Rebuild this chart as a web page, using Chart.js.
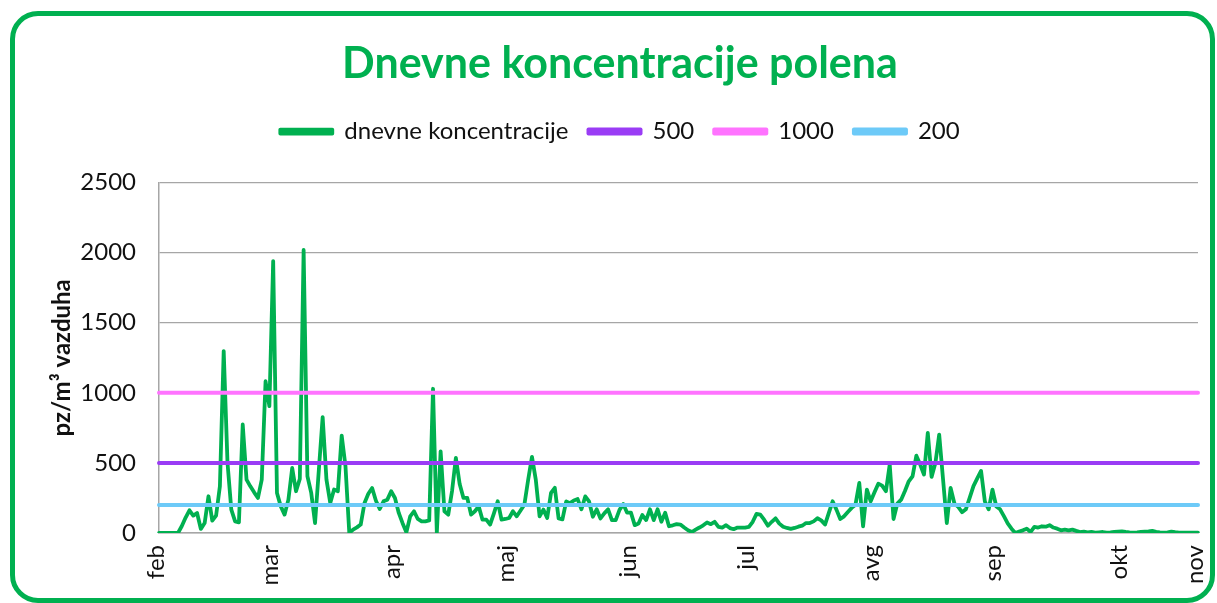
<!DOCTYPE html>
<html>
<head>
<meta charset="utf-8">
<script src="https://cdn.jsdelivr.net/npm/chart.js@4.4.1/dist/chart.umd.min.js"></script>
<style>
body { margin: 0; background: #fff; }
#polenChart { position: absolute; left: 0; top: 0; }
#frame {
    position: absolute; left: 10px; top: 11px; width: 1205px; height: 592px;
    box-sizing: border-box; border: 5px solid #00b050; border-radius: 28px;
    pointer-events: none;
}
</style>
</head>
<body>
<canvas id="polenChart" width="1217" height="603"></canvas>
<div id="frame"></div>
<script>
'use strict'
// month name shown at the day index where the month label sits
var monthNames = ['feb', 'mar', 'apr', 'maj', 'jun', 'jul', 'avg', 'sep', 'okt', 'nov'];
var monthStart = [0, 30, 62, 92, 124, 155, 188, 220, 253, 273];

// daily pollen counts, pz/m3
var dnevne = [
    0, 0, 0, 0, 0, 0, 50, 110, 162, 124,
    143, 29, 71, 262, 88, 124, 333, 1298, 500, 167,
    83, 76, 774, 381, 333, 290, 250, 381, 1083, 905,
    1940, 286, 190, 131, 238, 464, 298, 386, 2019, 405,
    286, 71, 450, 826, 381, 214, 310, 298, 695, 476,
    0, 24, 40, 60, 214, 280, 321, 230, 171, 226,
    238, 298, 250, 143, 70, 5, 119, 155, 100, 83,
    83, 90, 1029, 0, 583, 155, 131, 300, 536, 350,
    250, 250, 131, 155, 190, 95, 95, 60, 140, 226,
    95, 100, 107, 155, 119, 160, 202, 380, 543, 381,
    119, 167, 107, 286, 322, 104, 97, 225, 213, 232,
    242, 169, 261, 225, 116, 169, 104, 140, 169, 92,
    92, 165, 206, 145, 145, 56, 68, 128, 92, 169,
    92, 169, 80, 145, 48, 55, 63, 60, 39, 20,
    7, 24, 39, 55, 75, 63, 80, 44, 39, 56,
    35, 27, 39, 39, 39, 44, 80, 136, 131, 95,
    52, 80, 105, 67, 45, 36, 29, 36, 45, 52,
    71, 71, 83, 105, 90, 60, 143, 226, 167, 100,
    119, 150, 179, 202, 357, 48, 310, 226, 290, 352,
    338, 298, 488, 100, 210, 238, 300, 369, 405, 552,
    488, 417, 714, 400, 500, 702, 386, 71, 321, 210,
    186, 148, 169, 250, 334, 390, 443, 225, 169, 310,
    189, 169, 120, 68, 31, 0, 10, 19, 31, 7,
    44, 39, 48, 45, 56, 39, 31, 19, 24, 19,
    24, 15, 7, 10, 5, 8, 3, 5, 7, 3,
    5, 8, 10, 12, 8, 5, 3, 5, 8, 10,
    12, 15, 8, 5, 3, 5, 10, 6, 3, 2,
    3, 2, 2, 2
];

// threshold lines
var prag500 = 500;
var prag1000 = 1000;
var prag200 = 200;

var yTicks = [0, 500, 1000, 1500, 2000, 2500];

var labels = dnevne.map(function (v, i) {
    var k = monthStart.indexOf(i);
    return k >= 0 ? monthNames[k] : '';
});

function flat(value) {
    return dnevne.map(function () { return value; });
}

var font = 'Lato';

// leave some room under the legend, like the original
var legendGap = {
    id: 'legendGap',
    beforeInit: function (chart) {
        var fit = chart.legend.fit;
        chart.legend.fit = function () {
            fit.bind(chart.legend)();
            this.height += 29;
        };
    }
};

var polenChartArea = document.getElementById('polenChart');
var polenChart = new Chart(polenChartArea, {
    type: 'line',
    data: {
        labels: labels,
        datasets: [{
            label: 'dnevne koncentracije',
            data: dnevne,
            borderColor: '#00b050',
            backgroundColor: '#00b050',
            borderWidth: 3.8,
            order: 1
        }, {
            label: '500',
            data: flat(prag500),
            borderColor: '#9a3cf5',
            backgroundColor: '#9a3cf5',
            borderWidth: 4,
            order: 0
        }, {
            label: '1000',
            data: flat(prag1000),
            borderColor: '#ff73ff',
            backgroundColor: '#ff73ff',
            borderWidth: 4,
            order: 0
        }, {
            label: '200',
            data: flat(prag200),
            borderColor: '#6dcaf8',
            backgroundColor: '#6dcaf8',
            borderWidth: 4,
            order: 0
        }]
    },
    plugins: [legendGap],
    options: {
        responsive: false,
        animation: false,
        layout: { padding: { left: 42, right: 19, top: 0, bottom: 0 } },
        elements: {
            point: { radius: 0 },
            line: { tension: 0, borderJoinStyle: 'round', borderCapStyle: 'round' }
        },
        plugins: {
            title: {
                display: true,
                text: 'Dnevne koncentracije polena',
                color: '#00b050',
                font: { family: font, size: 43, weight: 'bold' },
                padding: { top: 38, bottom: 10 }
            },
            legend: {
                labels: {
                    color: '#111',
                    font: { family: font, size: 24 },
                    boxWidth: 52,
                    boxHeight: 4,
                    padding: 20,
                    sort: function (a, b) { return a.datasetIndex - b.datasetIndex; }
                }
            },
            tooltip: { enabled: false }
        },
        scales: {
            x: {
                grid: { display: false, drawTicks: false },
                border: { display: true, color: '#a6a6a6', width: 1.5 },
                ticks: {
                    autoSkip: false,
                    maxRotation: 90,
                    minRotation: 90,
                    padding: 12,
                    labelOffset: -3,
                    color: '#111',
                    font: { family: font, size: 24 }
                },
                afterFit: function (scale) {
                    scale.height = 70;
                    scale.paddingLeft = 0;
                    scale.paddingRight = 0;
                }
            },
            y: {
                min: 0,
                max: 2500,
                afterBuildTicks: function (scale) {
                    scale.ticks = yTicks.map(function (v) { return { value: v }; });
                },
                grid: { color: '#a6a6a6', lineWidth: 1.3, drawTicks: false },
                border: { display: true, color: '#a6a6a6', width: 1.5 },
                ticks: {
                    padding: 23,
                    color: '#111',
                    font: { family: font, size: 24 },
                    callback: function (value) { return String(value); }
                },
                title: {
                    display: true,
                    text: 'pz/m³ vazduha',
                    color: '#111',
                    font: { family: font, size: 24, weight: 'bold' },
                    padding: { top: 6, bottom: 0 }
                },
                afterFit: function (scale) { scale.width = 117; }
            }
        }
    }
});
</script>
</body>
</html>
